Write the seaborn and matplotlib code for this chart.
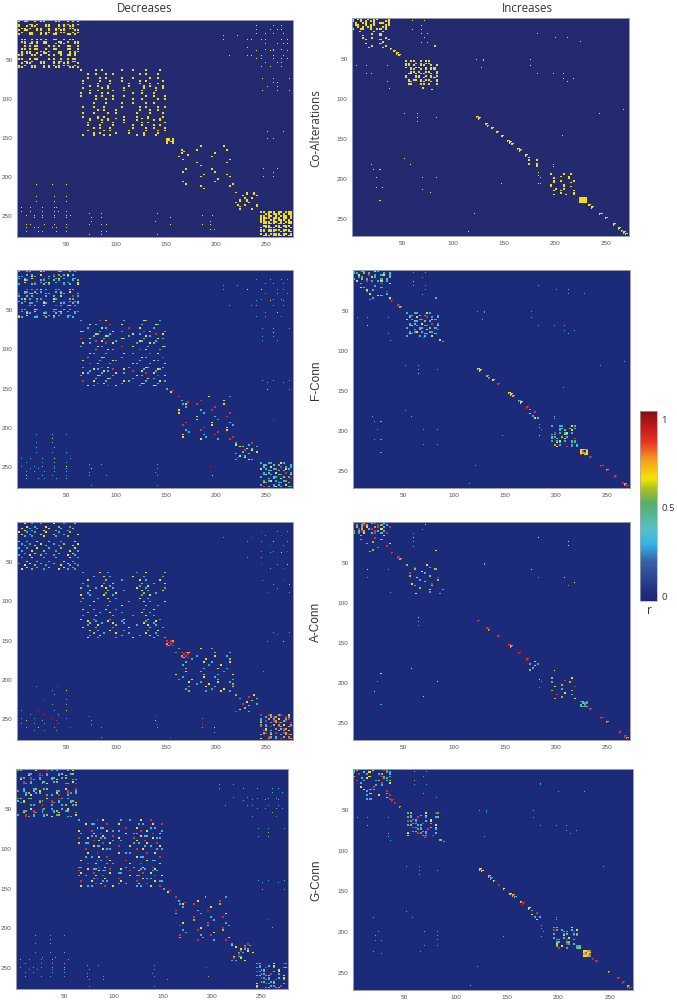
import matplotlib
matplotlib.use("Agg")
import matplotlib.pyplot as plt
from matplotlib.colors import LinearSegmentedColormap
import numpy as np
import seaborn as sns

W, H = 677, 1004
DEC_SIZE = 277
INC_SIZE = 272
TICKS = [50, 100, 150, 200, 250]
CBAR_TICKS = [0, 0.5, 1]
CBAR_LABELS = ["0", "0.5", "1"]
ROW_NAMES = ["Co-Alterations", "F-Conn", "A-Conn", "G-Conn"]
VMIN, VMAX = -0.03, 1.04

# colour stops
STOP_VALUES = [-0.03, 0.0, 0.19, 0.29, 0.376, 0.52, 0.60, 0.66, 0.77, 0.865, 0.95, 1.04]
STOP_COLORS = ["#1b2a78", "#1c2b79", "#3a5fa5", "#33b4e6", "#58c0c4", "#55ae6c", "#a9c01e",
               "#f4e40a", "#f59a20", "#e83522", "#c41a1a", "#7c1212"]
BG_COLORS = ["#232a70", "#1c2b79", "#1c2b79", "#1c2b79"]

# Decreases: row and column positions of the dots, block by block
G1_ROWS = [2, 6, 8, 11, 13, 16, 18, 25, 28, 30, 33, 37, 40, 42, 45, 50, 53, 55, 58, 60]
G1_COLS = [2, 5, 8, 10, 13, 15, 18, 20, 24, 27, 29, 32, 37, 39, 42, 44, 47, 51, 53, 56, 58, 61]
G2_ROWS = [64, 69, 74, 78, 81, 84, 87, 90, 93, 97, 101, 106, 111, 115, 119, 124, 126, 128, 131, 134, 138, 141, 144, 147]
G2_COLS = [64, 66, 71, 73, 77, 79, 81, 83, 85, 87, 89, 91, 93, 96, 99, 105, 107, 112, 116, 120, 123, 125, 127, 129, 131, 133, 137, 140, 142, 144, 147, 149]
G3_IDX = [151, 153, 155, 157]
G4_ROWS = [161, 166, 170, 174, 178, 182, 186, 190, 194, 197, 200, 203, 206, 209, 212, 215]
G4_COLS = [160, 163, 167, 170, 173, 176, 181, 185, 188, 190, 193, 196, 199, 202, 205, 208, 211, 214, 217]
G5_IDX = [220, 222, 224, 227, 229, 231, 233, 236, 238, 241]
G6_IDX = [245, 248, 250, 253, 255, 258, 260, 263, 265, 268, 270, 273, 275]
UR1_ROWS = [3, 8, 13, 18, 25, 30, 38, 39, 46, 50, 55, 60]
UR1_COLS = [241, 246, 250, 255, 258, 262, 266, 268, 272]
UR2_ROWS = [20, 25, 36, 40, 46]
UR2_COLS = [208, 214, 222, 232, 236]
UR3_ROWS = [75, 80, 85, 90, 141, 143, 152]
UR3_COLS = [247, 252, 258, 262, 268, 274]
UR4_ROWS = [190, 195, 200]
UR4_COLS = [248, 258, 262, 268]
LL1_ROWS = [240, 245, 250, 253, 257, 262, 265, 270]
LL1_COLS = [5, 10, 14, 18, 22, 26, 28, 36, 38, 40, 42, 50, 54]
LL2_ROWS = [210, 215, 220, 226, 232, 238]
LL2_COLS = [20, 27, 36, 38, 41, 50]
LL3_ROWS = [248, 253, 258, 262, 266, 270, 274]
LL3_COLS = [73, 75, 85, 90, 140, 142, 155]
LL4_ROWS = [250, 258, 262, 268]
LL4_COLS = [187, 195, 197, 199]
G7_IDX = [166, 168, 170, 172]

DEC_ROWS = [G1_ROWS, G2_ROWS, G3_IDX, G4_ROWS, G5_IDX, G6_IDX, UR1_ROWS, UR2_ROWS, UR3_ROWS, UR4_ROWS,
            LL1_ROWS, LL2_ROWS, LL3_ROWS, LL4_ROWS, G7_IDX]
DEC_COLS = [G1_COLS, G2_COLS, G3_IDX, G4_COLS, G5_IDX, G6_IDX, UR1_COLS, UR2_COLS, UR3_COLS, UR4_COLS,
            LL1_COLS, LL2_COLS, LL3_COLS, LL4_COLS, G7_IDX]
DEC_DOT = [2, 2, 2, 2, 2, 2, 1, 1, 1, 1, 1, 1, 1, 1, 2]

# Increases
I1A_ROWS = [1, 4, 6, 9, 11, 14]
I1A_COLS = [1, 4, 6, 9, 11, 14, 16, 19, 22, 25, 28, 30, 33, 36]
I1B_ROWS = [17, 20, 22, 25]
I1B_COLS = [8, 11, 14, 17, 20, 22, 25, 28, 30, 33, 36]
I1C_ROWS = [27, 30, 32, 35, 37]
I1C_COLS = [14, 17, 20, 22, 25, 28, 30, 33, 36]
I2_ROWS = [54, 57, 59, 62, 64, 67, 69, 72, 74, 77, 79, 82]
I2_COLS = [53, 56, 58, 61, 63, 66, 68, 71, 73, 76, 78, 81, 83]
I2T_ROWS = [84, 87, 89]
I2T_COLS = [62, 70, 76, 79, 85, 88]
I3_IDX = [174, 177, 179, 182, 185]
I4_IDX = [195, 198, 200, 203, 205, 208, 210, 213, 215, 218, 220]
TRI_IDX = [224, 226, 228, 230]

OFF_ROWS = [[4, 10, 15, 20, 25, 31], [35, 36], [60, 70], [80, 84, 88], [52, 54], [62, 84], [18, 20], [25, 28, 30],
            [52, 60, 70], [70], [76, 80], [120, 125, 130], [125], [176, 183], [183], [190, 200, 205, 212],
            [200, 205, 210, 214, 218], [225, 228], [120], [115], [147], [207], [244], [267], [193, 197, 200, 204, 207],
            [183, 186]]
OFF_COLS = [[60, 69, 72, 75], [82, 86], [5, 10, 15, 20, 25, 35], [35, 37], [123, 126, 130], [128, 132], [183, 186],
            [200, 208, 212, 225, 228], [176, 183], [198, 203, 208], [208, 212, 218, 225], [52, 60, 65], [83], [52],
            [20, 23, 58, 70], [22, 25, 28, 30], [70, 78, 83], [20, 28, 66, 76], [244], [267], [207], [147], [121],
            [115], [184, 186], [198, 203]]

CHAIN_A = [38, 41, 44, 46]
CHAIN_B = [123, 125, 132, 134, 137, 142, 147, 153, 155, 157, 163, 165, 171]
CHAIN_C = [233, 236, 244, 249, 257, 262, 265, 267, 269]

# dot levels as typed digits, one digit per dot, 0 leaves a gap; wrapped over each block
DIGIT_LEVEL = {"0": 0, "1": 0.2, "3": 0.3, "4": 0.38, "5": 0.52, "6": 0.6, "7": 0.67, "8": 0.77, "9": 0.88}
CO_HEAVY = "77077707707770077077707077770770707770777"
CO_DENSE = "70770070770007700707077000770700770070770"
CO_MID = "7000070070000007007000070000070000700"
CO_SPARSE = "0000000700000007000000000700000000070000000"
CO_OFF = "70700700770007070070070770070"
CO_SOLID = "7"
F_DENSE = "30035000730000430060300003040070009050370"
F_MID = "3000000900700000300000740000030000070"
F_SPARSE = "0900000000700000030000000090000000700000300"
F_OFF = "30400300700030300050040030300"
F_SOLID = "7783790"
F_RED = "9098"
A_DENSE = "90098004900700030498000940300803070049030"
A_MID = "6000000070000000900000300000060000000"
A_SPARSE = "0070030050007000300060000700300070006000500"
A_THIN = "0300000700030000000500070000000600003000070"
A_OFF = "50009000300700040009000300500"
A_SOLID = "5405045"
A_RED = "90980"
G_DENSE = "36000007000950300040700000530090030003600"
G_MID = "3000000900700000303000700090000000703"
G_SPARSE = "0900000000600000030000000070000000900000300"
G_OFF = "40300300600030300050040030300"
G_SOLID = "778379"
G_RED = "9908"

# which level list each Decreases block takes, one per panel
CO_DEC = [CO_DENSE, CO_MID, CO_HEAVY, CO_SPARSE, CO_MID, CO_HEAVY, CO_OFF, CO_OFF, CO_OFF, CO_OFF, CO_OFF, CO_OFF, CO_OFF, CO_OFF, CO_MID]
F_DEC = [F_DENSE, F_MID, F_MID, F_SPARSE, F_MID, F_DENSE, F_OFF, F_OFF, F_OFF, F_SPARSE, F_OFF, F_OFF, F_OFF, F_SPARSE, F_MID]
A_DEC = [A_SPARSE, A_THIN, A_RED, A_THIN, A_MID, A_DENSE, A_OFF, A_OFF, A_OFF, A_OFF, A_OFF, A_OFF, A_OFF, A_OFF, A_RED]
G_DEC = [G_DENSE, G_MID, G_MID, G_SPARSE, G_MID, G_DENSE, G_OFF, G_OFF, G_OFF, G_SPARSE, G_OFF, G_OFF, G_OFF, G_SPARSE, G_MID]

INC_ROWS = [I1A_ROWS, I1B_ROWS, I1C_ROWS, I2_ROWS, I2T_ROWS, I3_IDX, I4_IDX, TRI_IDX]
INC_COLS = [I1A_COLS, I1B_COLS, I1C_COLS, I2_COLS, I2T_COLS, I3_IDX, I4_IDX, TRI_IDX]
CO_INC = [CO_DENSE, CO_MID, CO_MID, CO_DENSE, CO_SPARSE, CO_MID, CO_MID, CO_SOLID]
F_INC = [F_DENSE, F_MID, F_MID, F_DENSE, F_SPARSE, F_MID, F_DENSE, F_SOLID]
A_INC = [A_DENSE, A_MID, A_MID, A_MID, A_SPARSE, A_SPARSE, A_MID, A_SOLID]
G_INC = [G_DENSE, G_MID, G_MID, G_DENSE, G_SPARSE, G_MID, G_DENSE, G_SOLID]
OFF_LEVELS = [CO_OFF, F_OFF, A_SPARSE, G_OFF]
CHAIN_LEVELS = [CO_SOLID, F_SOLID, A_RED, G_SOLID]
CHAIN_RED = [CO_SOLID, F_RED, A_RED, G_RED]

# panel boxes in pixels: left, top, right, bottom
DEC_BOX = [(17, 21, 293, 238), (17, 271, 293, 489), (17, 523, 293, 741), (16, 770, 288, 990)]
INC_BOX = [(352, 19, 629, 237), (353, 271, 630, 489), (353, 523, 630, 741), (353, 770, 633, 991)]
ROW_LABEL_Y = [128, 380, 622, 880]


def to_levels(digits):
    return [DIGIT_LEVEL[ch] for ch in digits]


def fill(mat, rows, cols, digits, dot=1):
    vals = np.resize(to_levels(digits), (len(rows), len(cols)))
    for i, r in enumerate(rows):
        for j, c in enumerate(cols):
            if vals[i, j] > 0:
                mat[r - 1:r - 1 + dot, c - 1:c - 1 + dot] = vals[i, j]


def fill_chain(mat, idx, digits):
    vals = np.resize(to_levels(digits), len(idx))
    for k, c in enumerate(idx):
        mat[c - 1:c + 1, c - 1:c + 1] = vals[k]
        mat[c + 1, c - 1] = vals[k]
        mat[c - 1, c + 1] = vals[k]


def dec_matrix(levels):
    mat = np.zeros((DEC_SIZE, DEC_SIZE))
    for rows, cols, lv, dot in zip(DEC_ROWS, DEC_COLS, levels, DEC_DOT):
        fill(mat, rows, cols, lv, dot)
    return mat


def inc_matrix(k, levels):
    mat = np.zeros((INC_SIZE, INC_SIZE))
    for rows, cols in zip(OFF_ROWS, OFF_COLS):
        fill(mat, rows, cols, OFF_LEVELS[k])
    for rows, cols, lv in zip(INC_ROWS, INC_COLS, levels):
        fill(mat, rows, cols, lv, 2)
    fill_chain(mat, CHAIN_A, CHAIN_RED[k])
    fill_chain(mat, CHAIN_B, CHAIN_LEVELS[k])
    fill_chain(mat, CHAIN_C, CHAIN_RED[k])
    return mat


def px_axes(fig, box):
    left, top, right, bottom = box
    return fig.add_axes([left / W, 1 - bottom / H, (right - left) / W, (bottom - top) / H])


def draw_panel(fig, box, mat, cmap, bg):
    ax = px_axes(fig, box)
    sns.heatmap(mat, cmap=cmap, vmin=VMIN, vmax=VMAX, cbar=False, ax=ax, xticklabels=False, yticklabels=False)
    ax.set_facecolor(bg)
    ax.collections[0].set_antialiased(True)
    pos = [t - 0.5 for t in TICKS]
    ax.set_xticks(pos)
    ax.set_yticks(pos)
    ax.set_xticklabels(TICKS, rotation=0, fontsize=4.6, color="#555555", family="Liberation Sans")
    ax.set_yticklabels(TICKS, rotation=0, fontsize=4.6, color="#555555", family="Liberation Sans")
    ax.tick_params(length=0, pad=3)
    for side in ax.spines.values():
        side.set_visible(True)
        side.set_color("#9a9cb0")
        side.set_linewidth(0.7)
    return ax


sns.set_theme(style="white")
plt.rcParams["font.family"] = ["Open Sans", "DejaVu Sans"]

stops = [(v - VMIN) / (VMAX - VMIN) for v in STOP_VALUES]
cmap = LinearSegmentedColormap.from_list("r_map", list(zip(stops, STOP_COLORS)), N=256)
co_colors = [BG_COLORS[0], BG_COLORS[0]] + STOP_COLORS[2:]
co_cmap = LinearSegmentedColormap.from_list("co_map", list(zip(stops, co_colors)), N=256)

fig = plt.figure(figsize=(W / 100, H / 100), dpi=100)

dec_levels = [CO_DEC, F_DEC, A_DEC, G_DEC]
inc_levels = [CO_INC, F_INC, A_INC, G_INC]
for k in range(4):
    use = co_cmap if k == 0 else cmap
    draw_panel(fig, DEC_BOX[k], dec_matrix(dec_levels[k]), use, BG_COLORS[k])
    draw_panel(fig, INC_BOX[k], inc_matrix(k, inc_levels[k]), use, BG_COLORS[k])
    family = "Open Sans" if k == 0 else "Liberation Sans"
    fig.text(316 / W, 1 - ROW_LABEL_Y[k] / H, ROW_NAMES[k], rotation=90, ha="center", va="center",
             fontsize=8.5, color="#333333", family=family)

fig.text(145 / W, 1 - 8.5 / H, "Decreases", ha="center", va="center", fontsize=8.3, color="#333333")
fig.text(527 / W, 1 - 8.5 / H, "Increases", ha="center", va="center", fontsize=8.3, color="#333333")

# colour bar through seaborn, from a one-column ramp of the same scale
cax = px_axes(fig, (640, 412, 657, 602))
ramp_ax = fig.add_axes([0, 0, 0.001, 0.001])
ramp_ax.set_visible(False)
sns.heatmap(np.array([CBAR_TICKS]), cmap=cmap, vmin=VMIN, vmax=VMAX, ax=ramp_ax, cbar_ax=cax)
cbar = ramp_ax.collections[0].colorbar
cbar.set_ticks(CBAR_TICKS)
cbar.set_ticklabels(CBAR_LABELS)
cbar.ax.tick_params(length=0, labelsize=6.8, labelcolor="#333333", pad=3)
cbar.outline.set_edgecolor("#aaaaaa")
cbar.outline.set_linewidth(0.5)
fig.text(649 / W, 1 - 610.5 / H, "r", ha="center", va="center", fontsize=8.5, color="#333333")

fig.savefig("out.png", dpi=100)
plt.close(fig)
